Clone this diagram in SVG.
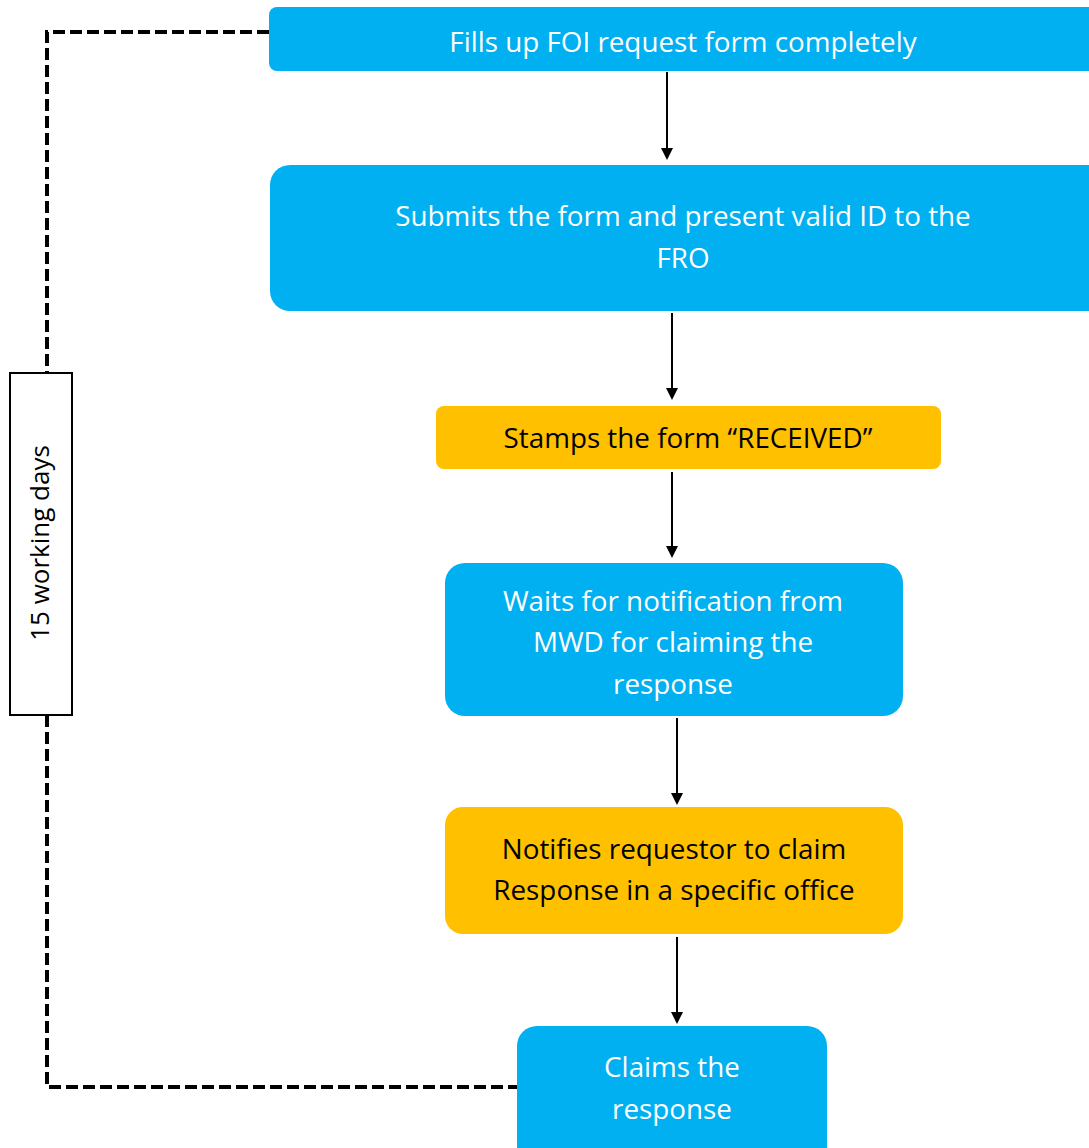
<svg xmlns="http://www.w3.org/2000/svg" width="1089" height="1148" viewBox="0 0 1089 1148">
<style>
.blue{fill:#00B0F0}
.orange{fill:#FFC000}
.t{font-family:"Open Sans","Liberation Sans",sans-serif;font-size:27.8px;text-anchor:middle}
.lbl{font-size:26px}
.w{fill:#ffffff}
.k{fill:#000000}
.arrow{stroke:#000;stroke-width:2;fill:none;marker-end:url(#ah)}
.dash{stroke:#000;stroke-width:4;fill:none;stroke-dasharray:12,5}
</style>
<defs>
<marker id="ah" markerWidth="12" markerHeight="14" refX="10" refY="6" orient="auto" markerUnits="userSpaceOnUse">
<path d="M0,0 L12,6 L0,12 z" fill="#000"/>
</marker>
</defs>
<rect width="1089" height="1148" fill="#ffffff"/>
<g id="connectors">
<line class="arrow" x1="667" y1="72" x2="667" y2="158"/>
<line class="arrow" x1="672" y1="313" x2="672" y2="398"/>
<line class="arrow" x1="672" y1="472" x2="672" y2="556"/>
<line class="arrow" x1="677" y1="718" x2="677" y2="803"/>
<line class="arrow" x1="677" y1="937" x2="677" y2="1022"/>
<path class="dash" d="M269,32 H47 V373"/>
<path class="dash" d="M47,715 V1087 H517"/>
</g>
<g id="label">
<rect x="10" y="373" width="62" height="342" fill="#ffffff" stroke="#000" stroke-width="2"/>
<text class="t lbl k" transform="translate(49,543) rotate(-90)">15 working days</text>
</g>
<g id="n1">
<rect class="blue" x="269" y="7" width="840" height="64" rx="8"/>
<text class="t w" x="683" y="52">Fills up FOI request form completely</text>
</g>
<g id="n2">
<rect class="blue" x="270" y="165" width="840" height="146" rx="20"/>
<text class="t w" x="683" y="226">Submits the form and present valid ID to the</text>
<text class="t w" x="683" y="268">FRO</text>
</g>
<g id="n3">
<rect class="orange" x="436" y="406" width="505" height="63" rx="8"/>
<text class="t k" x="688" y="448">Stamps the form “RECEIVED”</text>
</g>
<g id="n4">
<rect class="blue" x="445" y="563" width="458" height="153" rx="20"/>
<text class="t w" x="673" y="611">Waits for notification from</text>
<text class="t w" x="673" y="652">MWD for claiming the</text>
<text class="t w" x="673" y="694">response</text>
</g>
<g id="n5">
<rect class="orange" x="445" y="807" width="458" height="127" rx="18"/>
<text class="t k" x="674" y="859">Notifies requestor to claim</text>
<text class="t k" x="674" y="900">Response in a specific office</text>
</g>
<g id="n6">
<rect class="blue" x="517" y="1026" width="310" height="140" rx="20"/>
<text class="t w" x="672" y="1077">Claims the</text>
<text class="t w" x="672" y="1119">response</text>
</g>
</svg>
